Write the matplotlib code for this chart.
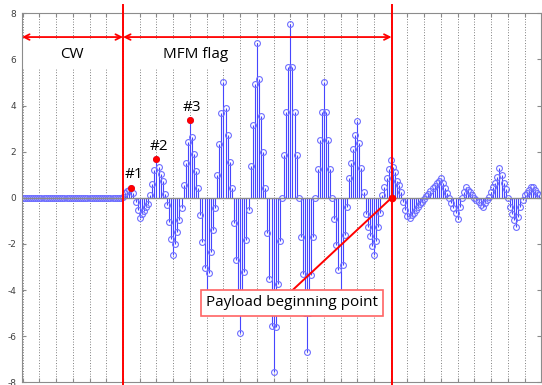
import numpy as np
import matplotlib.pyplot as plt
from matplotlib.patches import Rectangle

# ---- data (sample index -> amplitude) ----
cw_vals = [0.00, 0.00, 0.00, 0.00, 0.00, 0.00, 0.00, 0.00,
           0.00, 0.00, 0.00, 0.00, 0.00, 0.00, 0.00, 0.00,
           0.00, 0.00, 0.00, 0.00, 0.00, 0.00, 0.00, 0.00,
           0.00, 0.00, 0.00, 0.00, 0.00, 0.00, 0.00, 0.00,
           0.00, 0.00, 0.00, 0.00, 0.00, 0.00, 0.00, 0.00,
           0.00, 0.00, 0.00, 0.00, 0.00, 0.00, 0.00, 0.00]

mfm_vals = [0.05, 0.20, 0.29, 0.35, 0.44, 0.20, -0.20, -0.55,
            -0.89, -0.72, -0.58, -0.41, -0.25, 0.12, 0.60, 1.20,
            1.68, 1.35, 1.05, 0.75, 0.16, -0.30, -1.05, -1.80,
            -2.50, -2.00, -1.50, -0.95, -0.45, 0.55, 1.50, 2.43,
            3.37, 2.65, 1.90, 1.17, 0.44, -0.75, -1.90, -3.04,
            -4.20, -3.26, -2.35, -1.39, -0.43, 0.99, 2.33, 3.66,
            5.03, 3.88, 2.72, 1.57, 0.44, -1.10, -2.70, -4.20,
            -5.85, -4.56, -3.20, -1.85, -0.55, 1.38, 3.16, 4.93,
            6.72, 5.14, 3.56, 2.00, 0.44, -1.54, -3.53, -5.55,
            -7.54, -5.60, -3.75, -1.87, 0.00, 1.87, 3.74, 5.66,
            7.52, 5.66, 3.74, 1.87, 0.00, -1.69, -3.30, -5.00,
            -6.67, -5.00, -3.35, -1.69, 0.00, 1.25, 2.50, 3.74,
            5.00, 3.74, 2.50, 1.25, 0.00, -0.90, -2.05, -3.13,
            -4.20, -2.91, -1.61, -0.39, 0.85, 1.49, 2.10, 2.72,
            3.34, 2.36, 1.28, 0.27, -0.70, -1.25, -1.66, -2.09,
            -2.48, -1.86, -1.25, -0.65, 0.10, 0.45, 0.85, 1.25]

payload_vals = [1.64, 1.35, 1.13, 0.74, 0.55, 0.27, -0.17, -0.53,
                -0.80, -0.87, -0.75, -0.64, -0.52, -0.41, -0.29, -0.17,
                -0.06, 0.06, 0.17, 0.29, 0.41, 0.52, 0.64, 0.75,
                0.87, 0.65, 0.43, 0.21, 0.00, -0.22, -0.45, -0.67,
                -0.90, -0.40, 0.00, 0.25, 0.45, 0.35, 0.23, 0.12,
                0.00, -0.10, -0.20, -0.30, -0.41, -0.24, -0.10, 0.05,
                0.25, 0.45, 0.65, 0.92, 1.28, 0.99, 0.63, 0.37,
                0.00, -0.40, -0.70, -0.96, -1.25, -0.82, -0.40, -0.10,
                0.10, 0.20, 0.35, 0.45, 0.48, 0.34, 0.22, 0.12]

cw_end = 48          # CW | MFM boundary
payload_start = 176.4  # MFM | payload boundary
marked_x = [52, 64, 80]
marked_y = [0.44, 1.68, 3.37]
marked_labels = ["#1", "#2", "#3"]
yticks = [-8, -6, -4, -2, 0, 2, 4, 6, 8]

signal = np.array(cw_vals + mfm_vals + payload_vals)
n = np.arange(len(signal))

plt.rcParams['font.family'] = ['Open Sans', 'DejaVu Sans']

fig = plt.figure(figsize=(5.42, 3.85), dpi=100)
ax = fig.add_axes([22/542, 1-382.3/385, (540.7-22)/542, (382.3-13.3)/385])

# stem plot
ml, sl, bl = ax.stem(n, signal, linefmt='-', markerfmt='o', basefmt='-')
plt.setp(sl, color='#4646ff', linewidth=0.8)
plt.setp(ml, markerfacecolor='none', markeredgecolor='#6e6eff',
         markersize=4.2, markeredgewidth=0.8)
plt.setp(bl, color='#8a8a8a', linewidth=1.0)
bl.set_xdata([-10, 260])

ax.set_xlim(-0.3, 247.7)
ax.set_ylim(-8, 8)
ax.set_xticks(np.arange(0, 248, 8))
ax.set_xticklabels([])
ax.set_yticks(yticks)
ax.set_yticklabels([str(v) for v in yticks], fontsize=6.5, color='#404040',
                   family='DejaVu Sans')
ax.tick_params(direction='in', length=3, top=True, right=True, color='#8a8a8a', pad=4)
ax.grid(axis='x', linestyle=(0, (1, 2.2)), color='#555555', linewidth=0.6)
ax.set_axisbelow(True)
for s in ax.spines.values():
    s.set_color('#8c8c8c')

# white boxes behind the region labels
ax.add_patch(Rectangle((-0.3, 5.6), cw_end + 0.3, 1.3, facecolor='white',
                       edgecolor='none', zorder=1.5))
ax.add_patch(Rectangle((cw_end + 0.3, 5.6), 52, 1.3, facecolor='white',
                       edgecolor='none', zorder=1.5))

# boundary lines
for xb in [cw_end, payload_start]:
    ax.plot([xb, xb], [8.36, -8.2], color='red', linewidth=1.4, clip_on=False, zorder=5)

# span arrows
arrow_kw = dict(arrowstyle='<->', color='red', lw=1.3, mutation_scale=10, shrinkA=0, shrinkB=0)
ax.annotate('', xy=(-0.3, 6.97), xytext=(cw_end, 6.97), arrowprops=arrow_kw, zorder=5)
ax.annotate('', xy=(cw_end, 6.97), xytext=(payload_start, 6.97), arrowprops=arrow_kw, zorder=5)
ax.text(23.6, 6.2, "CW", fontsize=11, ha='center', va='center', zorder=6)
ax.text(82.9, 6.2, "MFM flag", fontsize=11, ha='center', va='center', zorder=6)

# marked peaks
ax.plot(marked_x, marked_y, 'o', color='red', markersize=4, zorder=6)
for xm, ym, lab in zip(marked_x, marked_y, marked_labels):
    ax.text(xm + 1, ym + 0.55, lab, fontsize=11, ha='center', va='center', zorder=6)

# payload beginning point
ax.plot([payload_start], [0], 'o', color='red', markersize=4.5, zorder=7)
ax.plot([129.1, payload_start], [-4.0, 0], color='red', linewidth=1.4, zorder=6)
ax.text(128.8, -4.56, "Payload beginning point", fontsize=11, ha='center', va='center',
        zorder=8, bbox=dict(boxstyle='square,pad=0.35', facecolor='white',
                            edgecolor='#ff6464', linewidth=1.2))

fig.savefig('out.png', dpi=100)
